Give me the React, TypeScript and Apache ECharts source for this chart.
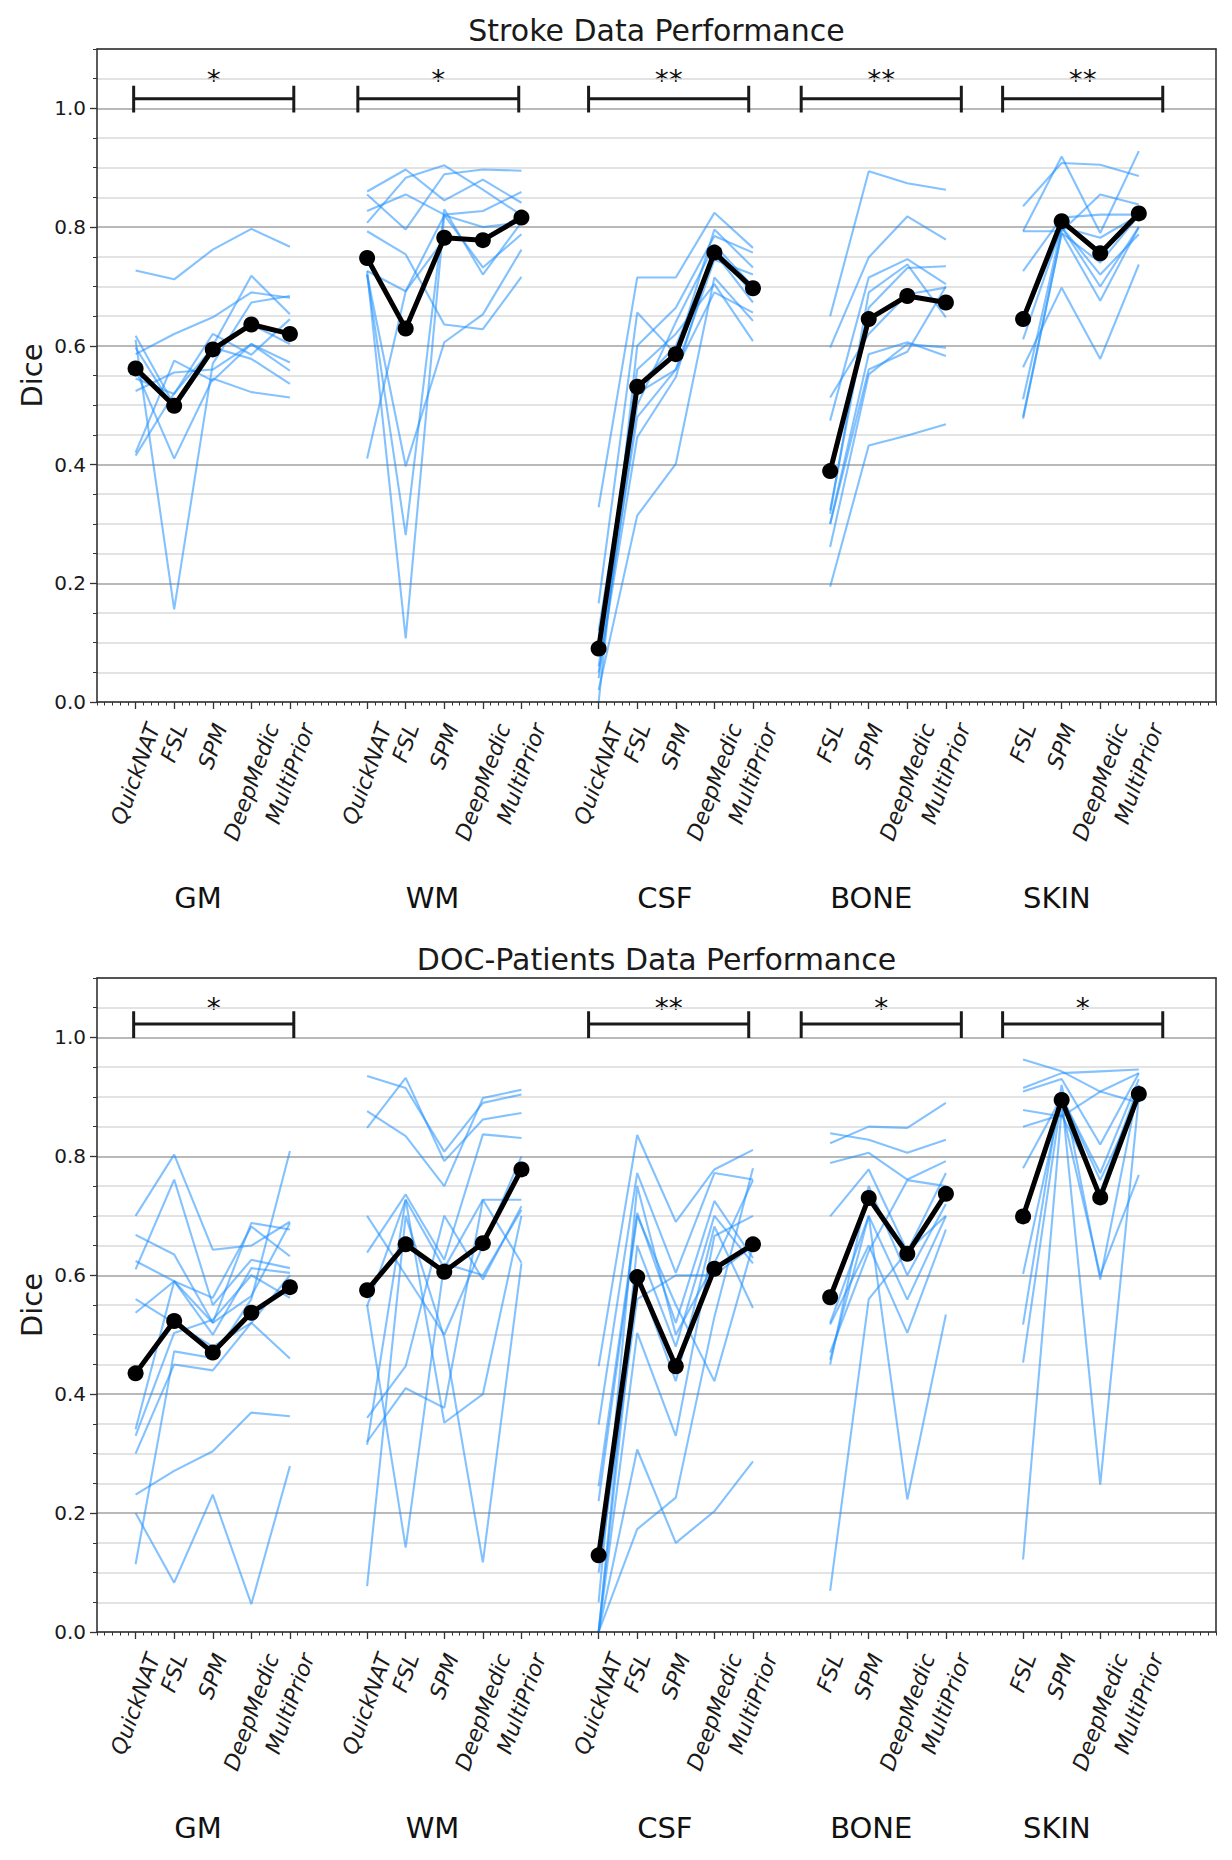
import React, { useEffect, useRef } from 'react';
import * as echarts from 'echarts';

// ---------------- data ----------------
const PANEL_TITLES = ['Stroke Data Performance', 'DOC-Patients Data Performance'];
const GROUP_NAMES = ['GM', 'WM', 'CSF', 'BONE', 'SKIN'];
const GROUP_LABEL_X = [1, 7, 13, 18, 23];
const METHODS_5 = ['QuickNAT', 'FSL', 'SPM', 'DeepMedic', 'MultiPrior'];
const METHODS_4 = ['FSL', 'SPM', 'DeepMedic', 'MultiPrior'];
const GROUP_METHODS = [METHODS_5, METHODS_5, METHODS_5, METHODS_4, METHODS_4];
const GROUP_X = [
  [0, 1, 2, 3, 4],
  [6, 7, 8, 9, 10],
  [12, 13, 14, 15, 16],
  [18, 19, 20, 21],
  [23, 24, 25, 26],
];
const BRACKET_X = [
  [-0.05, 4.1],
  [5.76, 9.93],
  [11.74, 15.89],
  [17.25, 21.4],
  [22.47, 26.62],
];
const STROKE_STARS = ['*', '*', '**', '**', '**'];
const DOC_STARS = ['*', '', '**', '*', '*'];
// bracket levels: [cap low, middle, cap high, star]
const STROKE_BRACKET_Y = [0.993, 1.016, 1.038, 1.057];
const DOC_BRACKET_Y = [0.999, 1.0225, 1.044, 1.0595];

const STROKE_GM = [
  [0.727, 0.712, 0.762, 0.797, 0.767],
  [0.586, 0.62, 0.648, 0.69, 0.681],
  [0.617, 0.5, 0.6, 0.718, 0.653],
  [0.61, 0.156, 0.57, 0.673, 0.684],
  [0.524, 0.555, 0.56, 0.603, 0.558],
  [0.415, 0.52, 0.597, 0.578, 0.536],
  [0.42, 0.575, 0.541, 0.603, 0.572],
  [0.56, 0.41, 0.545, 0.522, 0.513],
  [0.597, 0.494, 0.59, 0.636, 0.603],
  [0.545, 0.519, 0.62, 0.585, 0.645],
];
const STROKE_WM = [
  [0.86, 0.897, 0.845, 0.88, 0.841],
  [0.855, 0.796, 0.889, 0.897, 0.895],
  [0.827, 0.855, 0.821, 0.827, 0.859],
  [0.807, 0.883, 0.904, 0.863, 0.82],
  [0.793, 0.754, 0.636, 0.628, 0.716],
  [0.726, 0.692, 0.82, 0.732, 0.788],
  [0.72, 0.397, 0.606, 0.653, 0.762],
  [0.41, 0.692, 0.78, 0.78, 0.82],
  [0.72, 0.281, 0.83, 0.72, 0.808],
  [0.726, 0.107, 0.82, 0.8, 0.808],
];
const STROKE_CSF = [
  [0.328, 0.715, 0.715, 0.824, 0.765],
  [0.166, 0.656, 0.586, 0.796, 0.732],
  [0.0, 0.6, 0.664, 0.785, 0.757],
  [0.05, 0.446, 0.547, 0.765, 0.687],
  [0.02, 0.314, 0.401, 0.715, 0.642],
  [0.1, 0.531, 0.6, 0.757, 0.673],
  [0.08, 0.56, 0.62, 0.704, 0.608],
  [0.06, 0.48, 0.56, 0.745, 0.72],
  [0.04, 0.5, 0.64, 0.77, 0.7],
  [0.12, 0.52, 0.56, 0.69, 0.656],
];
const STROKE_BONE = [
  [0.65, 0.894, 0.874, 0.863],
  [0.597, 0.749, 0.818, 0.779],
  [0.474, 0.715, 0.746, 0.704],
  [0.317, 0.69, 0.737, 0.648],
  [0.261, 0.552, 0.603, 0.597],
  [0.194, 0.432, 0.449, 0.468],
  [0.3, 0.586, 0.606, 0.583],
  [0.323, 0.664, 0.731, 0.734],
  [0.513, 0.62, 0.687, 0.698],
  [0.3, 0.56, 0.59, 0.7],
];
const STROKE_SKIN = [
  [0.835, 0.908, 0.905, 0.886],
  [0.793, 0.919, 0.79, 0.928],
  [0.793, 0.793, 0.855, 0.838],
  [0.726, 0.816, 0.821, 0.821],
  [0.611, 0.8, 0.782, 0.82],
  [0.564, 0.698, 0.578, 0.737],
  [0.51, 0.8, 0.72, 0.788],
  [0.477, 0.79, 0.676, 0.8],
  [0.64, 0.8, 0.7, 0.8],
  [0.48, 0.79, 0.74, 0.82],
];
const STROKE_GM_MEAN = [0.562, 0.499, 0.594, 0.636, 0.62];
const STROKE_WM_MEAN = [0.748, 0.629, 0.782, 0.778, 0.816];
const STROKE_CSF_MEAN = [0.09, 0.531, 0.586, 0.757, 0.697];
const STROKE_BONE_MEAN = [0.389, 0.645, 0.684, 0.673];
const STROKE_SKIN_MEAN = [0.645, 0.81, 0.756, 0.823];

const DOC_GM = [
  [0.231, 0.271, 0.304, 0.369, 0.363],
  [0.114, 0.472, 0.461, 0.56, 0.809],
  [0.2, 0.083, 0.231, 0.047, 0.279],
  [0.7, 0.803, 0.643, 0.65, 0.69],
  [0.668, 0.635, 0.52, 0.688, 0.677],
  [0.624, 0.59, 0.5, 0.612, 0.604],
  [0.61, 0.761, 0.55, 0.626, 0.612],
  [0.537, 0.59, 0.562, 0.682, 0.632],
  [0.341, 0.59, 0.52, 0.565, 0.688],
  [0.33, 0.503, 0.525, 0.6, 0.562],
  [0.56, 0.52, 0.48, 0.52, 0.6],
  [0.3, 0.45, 0.44, 0.52, 0.46],
];
const DOC_WM = [
  [0.935, 0.915, 0.808, 0.89, 0.904],
  [0.876, 0.834, 0.75, 0.898, 0.912],
  [0.848, 0.932, 0.792, 0.862, 0.873],
  [0.638, 0.736, 0.626, 0.837, 0.831],
  [0.548, 0.727, 0.612, 0.727, 0.727],
  [0.36, 0.447, 0.7, 0.593, 0.716],
  [0.32, 0.41, 0.377, 0.727, 0.621],
  [0.315, 0.727, 0.352, 0.4, 0.7],
  [0.077, 0.7, 0.495, 0.117, 0.62],
  [0.55, 0.142, 0.62, 0.6, 0.71],
  [0.7, 0.6, 0.5, 0.65, 0.8],
];
const DOC_CSF = [
  [0.447, 0.836, 0.69, 0.778, 0.811],
  [0.349, 0.772, 0.604, 0.772, 0.761],
  [0.245, 0.705, 0.52, 0.725, 0.629],
  [0.0, 0.6, 0.422, 0.682, 0.545],
  [0.0, 0.503, 0.33, 0.666, 0.7],
  [0.0, 0.173, 0.226, 0.53, 0.78],
  [0.0, 0.307, 0.15, 0.203, 0.287],
  [0.22, 0.7, 0.55, 0.422, 0.65],
  [0.0, 0.65, 0.48, 0.7, 0.62],
  [0.05, 0.75, 0.5, 0.62, 0.76],
  [0.1, 0.56, 0.6, 0.6, 0.65],
];
const DOC_BONE = [
  [0.822, 0.85, 0.848, 0.89],
  [0.839, 0.828, 0.806, 0.828],
  [0.789, 0.806, 0.761, 0.792],
  [0.699, 0.778, 0.64, 0.772],
  [0.52, 0.7, 0.559, 0.699],
  [0.517, 0.65, 0.503, 0.677],
  [0.458, 0.7, 0.223, 0.534],
  [0.069, 0.56, 0.64, 0.7],
  [0.45, 0.75, 0.6, 0.72],
  [0.47, 0.64, 0.76, 0.75],
];
const DOC_SKIN = [
  [0.963, 0.943, 0.909, 0.94],
  [0.915, 0.94, 0.943, 0.946],
  [0.909, 0.93, 0.82, 0.94],
  [0.878, 0.867, 0.909, 0.89],
  [0.602, 0.9, 0.772, 0.93],
  [0.517, 0.92, 0.593, 0.92],
  [0.453, 0.9, 0.248, 0.9],
  [0.122, 0.88, 0.6, 0.769],
  [0.85, 0.87, 0.74, 0.92],
  [0.78, 0.9, 0.76, 0.9],
];
const DOC_GM_MEAN = [0.435, 0.523, 0.47, 0.537, 0.58];
const DOC_WM_MEAN = [0.575, 0.652, 0.606, 0.654, 0.778];
const DOC_CSF_MEAN = [0.129, 0.597, 0.447, 0.611, 0.652];
const DOC_BONE_MEAN = [0.563, 0.73, 0.636, 0.737];
const DOC_SKIN_MEAN = [0.699, 0.895, 0.731, 0.905];

const Y_TICK_MAJOR = 0.2;
const Y_TICK_MINOR = 0.05;
const X_TICK_MINOR = 0.2;

// ---------------- style ----------------
const FONT = '"DejaVu Sans", "Noto Sans", sans-serif';
const BLUE = 'rgba(30,144,255,0.55)';
const FRAME = '#333';
const W = 1232;
const H = 1860;
const GRIDS = [
  { left: 97, top: 49, width: 1119, height: 653 },
  { left: 97, top: 978, width: 1119, height: 654 },
];

const PANELS = [
  {
    subjects: [STROKE_GM, STROKE_WM, STROKE_CSF, STROKE_BONE, STROKE_SKIN],
    means: [STROKE_GM_MEAN, STROKE_WM_MEAN, STROKE_CSF_MEAN, STROKE_BONE_MEAN, STROKE_SKIN_MEAN],
    stars: STROKE_STARS,
    bracketY: STROKE_BRACKET_Y,
  },
  {
    subjects: [DOC_GM, DOC_WM, DOC_CSF, DOC_BONE, DOC_SKIN],
    means: [DOC_GM_MEAN, DOC_WM_MEAN, DOC_CSF_MEAN, DOC_BONE_MEAN, DOC_SKIN_MEAN],
    stars: DOC_STARS,
    bracketY: DOC_BRACKET_Y,
  },
];

const ALL_TICKS = GROUP_X.flat();

function buildOption() {
  const xAxis: any[] = [];
  const yAxis: any[] = [];
  const series: any[] = [];
  GRIDS.forEach((_, g) => {
    xAxis.push({
      gridIndex: g, type: 'value', min: -1, max: 28, position: 'bottom', z: 10,
      axisLine: { show: true, onZero: false, lineStyle: { color: FRAME, width: 1.6 } },
      axisTick: { show: true, customValues: ALL_TICKS, length: 7, lineStyle: { color: FRAME, width: 1.3 } },
      axisLabel: { show: false },
      splitLine: { show: false },
    });
    xAxis.push({
      gridIndex: g, type: 'value', min: -1, max: 28, interval: X_TICK_MINOR, position: 'bottom', z: 9,
      axisLine: { show: false, onZero: false },
      axisTick: { show: true, length: 3.5, lineStyle: { color: FRAME, width: 1 } },
      axisLabel: { show: false },
      splitLine: { show: false },
    });
    xAxis.push({
      gridIndex: g, type: 'value', min: -1, max: 28, position: 'top', z: 10,
      axisLine: { show: true, onZero: false, lineStyle: { color: FRAME, width: 1.6 } },
      axisTick: { show: false }, axisLabel: { show: false }, splitLine: { show: false },
    });
    yAxis.push({
      gridIndex: g, type: 'value', min: 0, max: 1.1, interval: Y_TICK_MINOR, position: 'left', z: 1,
      axisLine: { show: false, onZero: false },
      axisTick: { show: true, length: 4, lineStyle: { color: FRAME, width: 1 } },
      axisLabel: { show: false },
      splitLine: { show: true, lineStyle: { color: '#dadada', width: 1.5 } },
    });
    yAxis.push({
      gridIndex: g, type: 'value', min: 0, max: 1.1, interval: Y_TICK_MAJOR, position: 'left', z: 2,
      axisLine: { show: true, onZero: false, lineStyle: { color: FRAME, width: 1.6 } },
      axisTick: { show: true, length: 7, lineStyle: { color: FRAME, width: 1.3 } },
      axisLabel: {
        show: true, showMaxLabel: false, margin: 11, fontSize: 20, fontFamily: FONT, color: '#1a1a1a',
        formatter: (v: number) => (v > 1.05 ? '' : v.toFixed(1)),
      },
      splitLine: { show: true, lineStyle: { color: '#ababab', width: 1.5 } },
    });
    yAxis.push({
      gridIndex: g, type: 'value', min: 0, max: 1.1, position: 'right', z: 10,
      axisLine: { show: true, onZero: false, lineStyle: { color: FRAME, width: 1.6 } },
      axisTick: { show: false }, axisLabel: { show: false }, splitLine: { show: false },
    });

    const xi = g * 3;
    const yi = g * 3 + 1;
    const panel = PANELS[g];
    panel.subjects.forEach((rows, k) => {
      rows.forEach((row) => {
        series.push({
          type: 'line', xAxisIndex: xi, yAxisIndex: yi, silent: true, z: 5,
          symbol: 'none', showSymbol: false,
          lineStyle: { color: BLUE, width: 2.1 },
          data: GROUP_X[k].map((x, i) => [x, row[i]]),
        });
      });
    });
    panel.means.forEach((m, k) => {
      series.push({
        type: 'line', xAxisIndex: xi, yAxisIndex: yi, silent: true, z: 8,
        symbol: 'circle', symbolSize: 16, showSymbol: true,
        itemStyle: { color: '#000' },
        lineStyle: { color: '#000', width: 5 },
        data: GROUP_X[k].map((x, i) => [x, m[i]]),
      });
    });
    const [c0, mid, c1] = panel.bracketY;
    panel.stars.forEach((s, k) => {
      if (!s) return;
      const [x0, x1] = BRACKET_X[k];
      series.push({
        type: 'line', xAxisIndex: xi, yAxisIndex: yi, silent: true, z: 8,
        symbol: 'none', showSymbol: false,
        lineStyle: { color: '#1a1a1a', width: 3 },
        data: [[x0, c0], [x0, c1], [x0, mid], [x1, mid], [x1, c1], [x1, c0]],
      });
    });
  });

  return {
    animation: false,
    backgroundColor: '#fff',
    grid: GRIDS.map((r) => ({ ...r, containLabel: false })),
    xAxis,
    yAxis,
    series,
  };
}

export default function App() {
  const ref = useRef<HTMLDivElement>(null);
  useEffect(() => {
    if (!ref.current) return;
    const chart = echarts.init(ref.current, null, { renderer: 'svg', width: W, height: H });
    chart.setOption(buildOption());

    const canvas = document.createElement('canvas');
    const ctx = canvas.getContext('2d') as CanvasRenderingContext2D;
    const TICK_FS = 22;
    ctx.font = `italic ${TICK_FS}px "DejaVu Sans"`;
    const theta = (70 * Math.PI) / 180;
    const hBox = TICK_FS * 1.2;

    const graphics: any[] = [];
    GRIDS.forEach((gr, g) => {
      const finder = { xAxisIndex: g * 3, yAxisIndex: g * 3 + 1 };
      const px = (x: number, y: number) => chart.convertToPixel(finder as any, [x, y]) as number[];
      const base = px(0, 0)[1];
      const top = px(0, 1.1)[1];
      const cx = gr.left + gr.width / 2;

      graphics.push({
        type: 'text', x: cx, y: top - 19, silent: true,
        style: { text: PANEL_TITLES[g], fill: '#1a1a1a', fontSize: 30, fontFamily: FONT, align: 'center', verticalAlign: 'middle', textAlign: 'center', textVerticalAlign: 'middle' },
      });
      graphics.push({
        type: 'text', x: 32, y: (base + top) / 2, rotation: Math.PI / 2, silent: true,
        style: { text: 'Dice', fill: '#1a1a1a', fontSize: 29, fontFamily: FONT, align: 'center', verticalAlign: 'middle', textAlign: 'center', textVerticalAlign: 'middle' },
      });
      GROUP_X.forEach((xs, k) => {
        xs.forEach((x, i) => {
          const label = GROUP_METHODS[k][i];
          const L = ctx.measureText(label).width;
          const p = px(x, 0);
          graphics.push({
            type: 'text', silent: true,
            x: p[0] + (L * Math.cos(theta)) / 2,
            y: base + 18 + (hBox / 2) * Math.cos(theta),
            rotation: theta,
            style: { text: label, fill: '#1a1a1a', fontSize: TICK_FS, fontFamily: FONT, fontStyle: 'italic', align: 'right', verticalAlign: 'middle', textAlign: 'right', textVerticalAlign: 'middle' },
          });
        });
        const gp = px(GROUP_LABEL_X[k], 0);
        graphics.push({
          type: 'text', silent: true, x: gp[0], y: base + 196,
          style: { text: GROUP_NAMES[k], fill: '#111', fontSize: 29, fontFamily: FONT, align: 'left', verticalAlign: 'middle', textAlign: 'left', textVerticalAlign: 'middle' },
        });
        const s = PANELS[g].stars[k];
        if (s) {
          const [x0, x1] = BRACKET_X[k];
          const sp = px((x0 + x1) / 2, PANELS[g].bracketY[3]);
          graphics.push({
            type: 'text', silent: true, x: sp[0], y: sp[1] + 6,
            style: { text: s, fill: '#111', fontSize: 28, fontFamily: FONT, align: 'center', verticalAlign: 'middle', textAlign: 'center', textVerticalAlign: 'middle' },
          });
        }
      });
    });
    chart.setOption({ graphic: graphics });

    return () => chart.dispose();
  }, []);
  return (
    <div
      ref={ref}
      style={{ position: 'absolute', left: 0, top: 0, width: W, height: H, background: '#fff' }}
    />
  );
}
